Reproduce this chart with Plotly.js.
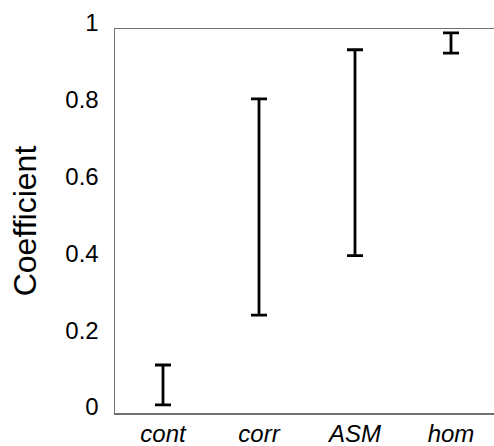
<!DOCTYPE html>
<html>
<head>
<meta charset="utf-8">
<script src="https://cdn.plot.ly/plotly-3.0.1.min.js"></script>
<style>
html,body{margin:0;padding:0;overflow:hidden;background:#fff;}
#chart{width:500px;height:446px;}
</style>
</head>
<body>
<div id="chart"></div>
<script>
var categories = ["cont", "corr", "ASM", "hom"];
var lowerValues = [0.021, 0.255, 0.41, 0.937];
var upperValues = [0.125, 0.818, 0.946, 0.99];
var yTickValues = [0, 0.2, 0.4, 0.6, 0.8, 1];
var yTickLabels = ["0", "0.2", "0.4", "0.6", "0.8", "1"];

var mids = lowerValues.map(function(l, i){ return (l + upperValues[i]) / 2; });
var halves = lowerValues.map(function(l, i){ return (upperValues[i] - l) / 2; });

var trace = {
  x: categories,
  y: mids,
  type: "scatter",
  mode: "markers",
  marker: {size: 1, color: "rgba(0,0,0,0)"},
  error_y: {type: "data", symmetric: true, array: halves, color: "#000", thickness: 2.8, width: 8},
  hoverinfo: "none",
  showlegend: false
};

var layout = {
  width: 500, height: 446,
  margin: {l: 115, r: 1, t: 29, b: 33, pad: 0},
  paper_bgcolor: "#fff", plot_bgcolor: "#fff",
  font: {family: "Arial, 'Liberation Sans', sans-serif", color: "#000"},
  xaxis: {
    type: "category", range: [-0.5, 3.5],
    showgrid: false, zeroline: false,
    showline: true, mirror: true, linecolor: "#707070", linewidth: 1.5,
    ticks: "", ticklabelstandoff: -1,
    tickfont: {size: 24, family: "Arial, 'Liberation Sans', sans-serif", style: "italic", color: "#000"}
  },
  yaxis: {
    range: [0, 1], showgrid: false, zeroline: false,
    showline: true, mirror: true, linecolor: "#707070", linewidth: 1.5,
    ticks: "", tickvals: yTickValues, ticktext: yTickLabels,
    ticklabelstandoff: 10, ticklabelshift: -6,
    tickfont: {size: 24, family: "Arial, 'Liberation Sans', sans-serif", color: "#000"},
    title: {text: "Coefficient", standoff: 19, font: {size: 32, family: "Arial, 'Liberation Sans', sans-serif", color: "#000"}},
    automargin: false
  }
};

Plotly.newPlot("chart", [trace], layout, {displayModeBar: false, staticPlot: true});
</script>
</body>
</html>
